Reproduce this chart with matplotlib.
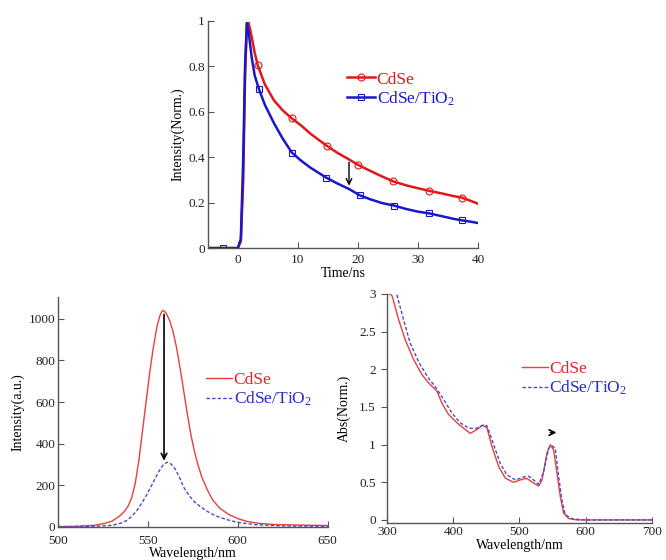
import matplotlib
matplotlib.use("Agg")
import matplotlib.pyplot as plt
import numpy as np

plt.rcParams["font.family"] = ["Liberation Serif", "DejaVu Serif"]
plt.rcParams["mathtext.fontset"] = "custom"
plt.rcParams["mathtext.rm"] = "Liberation Serif"
plt.rcParams["mathtext.it"] = "Liberation Serif:italic"

# ---- TRPL decay (top) ----
t_cdse = [-5, -2.5, 0, 0.5, 0.9, 1.2, 1.5, 1.8, 2.3, 2.8, 3.3, 4.5, 6, 7.5, 9,
          10.5, 12, 13.5, 14.8, 16.5, 18.5, 20, 22, 24, 25.9, 28, 30, 31.8,
          34, 36, 37.3, 39, 40]
i_cdse = [0, 0, 0, 0.03, 0.3, 0.75, 0.98, 0.99, 0.93, 0.86, 0.805, 0.72, 0.65,
          0.605, 0.57, 0.54, 0.505, 0.475, 0.45, 0.42, 0.39, 0.366, 0.34, 0.315,
          0.293, 0.276, 0.263, 0.252, 0.24, 0.228, 0.222, 0.205, 0.195]
t_tio2 = [-5, -2.5, 0, 0.5, 0.9, 1.2, 1.5, 1.8, 2.3, 2.8, 3.5, 4.5, 6, 7.5, 9,
          10.5, 12, 13.5, 14.7, 16.5, 18.5, 20.3, 22, 24, 26, 28, 30, 31.8,
          34, 36, 37.3, 39, 40]
i_tio2 = [0, 0, 0, 0.04, 0.4, 0.8, 0.99, 0.95, 0.84, 0.76, 0.70, 0.63, 0.55,
          0.48, 0.42, 0.385, 0.355, 0.33, 0.31, 0.285, 0.26, 0.232, 0.215,
          0.198, 0.187, 0.172, 0.16, 0.153, 0.14, 0.128, 0.122, 0.115, 0.11]
mk_cdse = [3.3, 9, 14.8, 20, 25.9, 31.8, 37.3]
mk_tio2 = [-2.5, 3.5, 9, 14.7, 20.3, 26, 31.8, 37.3]

# ---- PL spectra (bottom left) ----
wl_pl_cdse = [500, 510, 520, 526, 530, 534, 537, 539, 541, 543, 545, 547, 549,
              551, 553, 555, 556.5, 557.5, 558.5, 560, 562, 564, 566, 568, 570,
              572, 574, 576, 578, 580, 583, 586, 590, 595, 600, 605, 612, 620,
              635, 650]
pl_cdse = [2, 3, 8, 17, 28, 50, 75, 100, 140, 210, 320, 460, 600, 740, 860,
           960, 1010, 1032, 1041, 1030, 995, 940, 860, 760, 650, 540, 440, 360,
           295, 240, 180, 130, 90, 60, 40, 27, 17, 12, 9, 7]
wl_pl_tio2 = [500, 520, 530, 535, 538, 541, 544, 547, 550, 553, 556, 558.5,
              560.7, 563, 565.5, 568, 570, 573, 576, 579, 583, 588, 594, 600,
              610, 625, 650]
pl_tio2 = [1, 3, 8, 18, 30, 51, 80, 120, 165, 215, 265, 298, 311, 302, 275,
           230, 190, 150, 120, 99, 75, 52, 35, 22, 11, 5, 3]

# ---- absorption (bottom right) ----
wl_abs_cdse = [300, 305, 308, 317.6, 327.7, 340.2, 352.8, 362.8, 375.5, 383,
               393, 405.6, 418.2, 425.7, 435.8, 444.3, 451, 458.5, 468.5, 478.6,
               491, 501, 506.3, 511.3, 521.3, 529, 534, 541.5, 546.5, 551.5,
               556.6, 561.6, 566.6, 574, 586.6, 600, 650, 700]
abs_cdse = [3.0, 3.0, 2.97, 2.66, 2.39, 2.13, 1.93, 1.82, 1.71, 1.55, 1.40,
            1.29, 1.20, 1.15, 1.20, 1.26, 1.22, 0.975, 0.71, 0.555, 0.50, 0.53,
            0.545, 0.55, 0.49, 0.45, 0.53, 0.89, 1.0, 0.93, 0.62, 0.31, 0.09,
            0.02, 0.0, 0.0, 0.0, 0.0]
wl_abs_tio2 = [315, 325, 335, 347.7, 362.8, 372.9, 385.5, 398, 410.6, 423.2,
               433.3, 445.9, 451, 461, 471, 481, 493.7, 506, 513.8, 521.4, 529,
               536.5, 544, 549, 554, 559, 564, 569, 579, 590, 600, 650, 700]
abs_tio2 = [2.99, 2.66, 2.35, 2.10, 1.88, 1.77, 1.60, 1.42, 1.29, 1.22, 1.21,
            1.26, 1.25, 1.0, 0.75, 0.60, 0.53, 0.57, 0.58, 0.53, 0.47, 0.64,
            0.95, 0.985, 0.95, 0.58, 0.27, 0.07, 0.015, 0.005, 0.0, 0.0, 0.0]

RED = "#e2262a"
BLUE = "#2a2ac8"
SPINE = "#555555"

fig = plt.figure(figsize=(6.66, 5.6), dpi=100)


def style(ax):
    for s in ("top", "right"):
        ax.spines[s].set_visible(False)
    for s in ("left", "bottom"):
        ax.spines[s].set_color(SPINE)
        ax.spines[s].set_linewidth(1.0)
    ax.tick_params(direction="in", length=4, width=0.8, color=SPINE,
                   labelsize=9.5, labelcolor="#222222", pad=2)


# top panel
ax1 = fig.add_axes([0.312, 0.557, 0.406, 0.406])
idx_c = [t_cdse.index(v) for v in mk_cdse]
idx_t = [t_tio2.index(v) for v in mk_tio2]
ax1.plot(t_cdse, i_cdse, color="#e01818", lw=1.8, marker="o", ms=5,
         mfc="none", mew=0.8, markevery=idx_c, label="CdSe")
ax1.plot(t_tio2, i_tio2, color="#1818c8", lw=1.8, marker="s", ms=5,
         mfc="none", mew=0.8, markevery=idx_t, label="CdSe/TiO$_2$")
ax1.annotate("", xy=(18.5, 0.262), xytext=(18.5, 0.39),
             arrowprops=dict(arrowstyle="->", color="black", lw=1.0))
ax1.set_xlim(-5, 40)
ax1.set_ylim(0, 1.0)
ax1.set_xticks([0, 10, 20, 30, 40])
ax1.set_yticks([0, 0.2, 0.4, 0.6, 0.8, 1.0])
ax1.set_yticklabels(["0", "0.2", "0.4", "0.6", "0.8", "1"])
ax1.set_xlabel("Time/ns", fontsize=10, labelpad=1)
ax1.set_ylabel("Intensity(Norm.)", fontsize=10, labelpad=3)
style(ax1)
ax1.tick_params(axis="x", pad=4)
ax1.legend(loc="upper left", bbox_to_anchor=(0.457, 0.846), frameon=False,
           fontsize=12.5, handlelength=1.6, handletextpad=0.1,
           labelspacing=0.1, numpoints=1, labelcolor="linecolor")

# bottom left panel
ax2 = fig.add_axes([0.087, 0.059, 0.405, 0.411])
ax2.plot(wl_pl_cdse, pl_cdse, color="#e8403a", lw=1.0, label="CdSe")
ax2.plot(wl_pl_tio2, pl_tio2, color="#4a4ad0", lw=1.0, ls=(0, (2.5, 1.5)),
         label="CdSe/TiO$_2$")
ax2.annotate("", xy=(559, 305), xytext=(559, 1035),
             arrowprops=dict(arrowstyle="->", color="black", lw=1.2))
ax2.set_xlim(500, 650)
ax2.set_ylim(0, 1106)
ax2.set_xticks([500, 550, 600, 650])
ax2.set_yticks([0, 200, 400, 600, 800, 1000])
ax2.set_xlabel("Wavelength/nm", fontsize=10, labelpad=0)
ax2.set_ylabel("Intensity(a.u.)", fontsize=10, labelpad=3)
style(ax2)
ax2.tick_params(axis="x", pad=6)
leg2 = ax2.legend(loc="upper left", bbox_to_anchor=(0.49, 0.742), frameon=False,
                  fontsize=12.5, handlelength=1.5, handletextpad=0.1,
                  labelspacing=0.1)
for txt, c in zip(leg2.get_texts(), [RED, BLUE]):
    txt.set_color(c)

# bottom right panel
ax3 = fig.add_axes([0.581, 0.0655, 0.398, 0.4095])
ax3.plot(wl_abs_cdse, abs_cdse, color="#e8403a", lw=1.0, label="CdSe")
ax3.plot(wl_abs_tio2, abs_tio2, color="#4a4ad0", lw=1.0, ls=(0, (2.5, 1.5)),
         label="CdSe/TiO$_2$")
ax3.annotate("", xy=(560, 1.16), xytext=(542.5, 1.16),
             arrowprops=dict(arrowstyle="->", color="black", lw=1.2))
ax3.set_xlim(300, 700)
ax3.set_ylim(-0.045, 3.0)
ax3.set_xticks([300, 400, 500, 600, 700])
ax3.set_yticks([0, 0.5, 1, 1.5, 2, 2.5, 3])
ax3.set_yticklabels(["0", "0.5", "1", "1.5", "2", "2.5", "3"])
ax3.set_xlabel("Wavelength/nm", fontsize=10, labelpad=1)
ax3.set_ylabel("Abs(Norm.)", fontsize=10, labelpad=6)
style(ax3)
ax3.tick_params(axis="y", direction="out", pad=4)
ax3.tick_params(axis="x", pad=2)
leg3 = ax3.legend(loc="upper left", bbox_to_anchor=(0.449, 0.777), frameon=False,
                  fontsize=12.5, handlelength=1.5, handletextpad=0.1,
                  labelspacing=0.1)
for txt, c in zip(leg3.get_texts(), [RED, BLUE]):
    txt.set_color(c)

fig.savefig("out.png", dpi=100)
